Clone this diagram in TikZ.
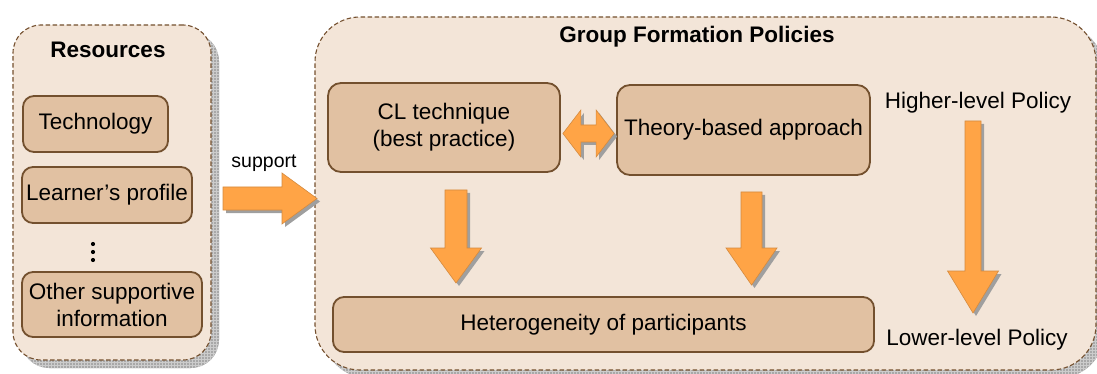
\documentclass[tikz,border=0pt]{standalone}
\usepackage{fontspec}
\setmainfont{Liberation Sans}
\usetikzlibrary{calc,patterns}
\definecolor{contfill}{HTML}{F3E5D8}
\definecolor{contline}{HTML}{74502F}
\definecolor{boxfill}{HTML}{E1C1A2}
\definecolor{boxline}{HTML}{73502E}
\definecolor{arrfill}{HTML}{FFA446}
\definecolor{arrline}{HTML}{D48A3E}
\definecolor{shadowgray}{HTML}{A8A8A8}
\tikzset{
  txt/.style={font=\fontsize{22.5}{27}\selectfont, align=center},
  title/.style={font=\fontsize{22.5}{27}\selectfont\bfseries},
  container/.style={draw=contline, line width=1.1pt, dash pattern=on 4.5pt off 2.5pt,
    fill=contfill, inner sep=0pt,
    preaction={draw=none, fill=shadowgray, transform canvas={shift={(8pt,-8pt)}}},
    preaction={draw=none, pattern=grid, pattern color=gray!40, transform canvas={shift={(8pt,-8pt)}}}},
  innerbox/.style={draw=boxline, line width=1.8pt, fill=boxfill, rounded corners=11pt,
    txt, inner sep=0pt},
  blockarrow/.style={fill=arrfill, draw=arrline, line width=0.6pt,
    preaction={draw=none, fill=gray!75, transform canvas={shift={(3pt,-3pt)}}}},
  dot/.style={fill=black},
}
% #1 start, #2 tip, #3 half shaft width, #4 half head width, #5 head length
\newcommand{\blockarr}[5]{%
  \coordinate (ba-h) at ($(#2)!#5!(#1)$);
  \path[blockarrow] ($(#1)!#3!90:(#2)$) -- ($(ba-h)!#3!-90:(#1)$) -- ($(ba-h)!#4!-90:(#1)$)
    -- (#2) -- ($(ba-h)!#4!90:(#1)$) -- ($(ba-h)!#3!90:(#1)$) -- ($(#1)!#3!-90:(#2)$) -- cycle;
}
% double arrow: #1 tip a, #2 tip b, #3 half shaft, #4 half head, #5 head length
\newcommand{\blockdarr}[5]{%
  \coordinate (da-a) at ($(#1)!#5!(#2)$);
  \coordinate (da-b) at ($(#2)!#5!(#1)$);
  \path[blockarrow] (#1) -- ($(da-a)!#4!90:(#2)$) -- ($(da-a)!#3!90:(#2)$)
    -- ($(da-b)!#3!-90:(#1)$) -- ($(da-b)!#4!-90:(#1)$) -- (#2)
    -- ($(da-b)!#4!90:(#1)$) -- ($(da-b)!#3!90:(#1)$)
    -- ($(da-a)!#3!-90:(#2)$) -- ($(da-a)!#4!-90:(#2)$) -- cycle;
}
\begin{document}
\begin{tikzpicture}[x=1pt,y=-1pt]
\useasboundingbox (0,0) rectangle (1097,374);
% containers
\node[container, rounded corners=28pt, minimum width=198pt, minimum height=335pt] (res) at (112,192.5) {};
\node[container, rounded corners=45pt, minimum width=781pt, minimum height=353pt] (gfp) at (705.5,193.5) {};
% left column
\node[title] (restitle) at (108,50) {Resources};
\node[innerbox, minimum width=145pt, minimum height=56pt] (tech) at (95.5,124) {Technology};
\node[innerbox, minimum width=170pt, minimum height=56pt] (learner) at (107,195) {Learner’s profile};
\coordinate (dots) at (93,252);
\fill[dot] ($(dots)+(0,-8)$) circle (2.1pt);
\fill[dot] (dots) circle (2.1pt);
\fill[dot] ($(dots)+(0,8)$) circle (2.1pt);
\node[innerbox, minimum width=180pt, minimum height=65pt] (other) at (112,304.5) {Other supportive\\information};
% support
\node[font=\fontsize{19.5}{22}\selectfont] (supp) at (264,163) {support};
\coordinate (s1) at (223,198.5);
\coordinate (s2) at (317,198.5);
\blockarr{s1}{s2}{11.5pt}{25.5pt}{35pt}
% right container
\node[title] (gtitle) at (697,37) {Group Formation Policies};
\node[innerbox, rounded corners=13pt, minimum width=232pt, minimum height=89pt] (cl) at (444,127.5) {CL technique\\(best practice)};
\node[innerbox, rounded corners=13pt, minimum width=253pt, minimum height=90pt] (theory) at (743.5,130) {Theory-based approach};
\node[innerbox, rounded corners=11pt, minimum width=541pt, minimum height=55pt] (het) at (603.5,324.5) {Heterogeneity of participants};
\node[txt] (higher) at (978,103) {Higher-level Policy};
\node[txt] (lower) at (977,340) {Lower-level Policy};
% arrows
\coordinate (da1) at ($(cl.east)+(2,6)$);
\coordinate (da2) at ($(theory.west)+(-2,3.5)$);
\blockdarr{da1}{da2}{8.5pt}{23.5pt}{18pt}
\coordinate (c1) at (456,190);
\coordinate (c2) at (456,283);
\blockarr{c1}{c2}{11pt}{25.5pt}{35pt}
\coordinate (t1) at (751.5,192);
\coordinate (t2) at (751.5,285);
\blockarr{t1}{t2}{10.5pt}{25.5pt}{37pt}
\coordinate (l1) at (973,121);
\coordinate (l2) at (973,313);
\blockarr{l1}{l2}{8pt}{25.5pt}{42pt}
\end{tikzpicture}
\end{document}
